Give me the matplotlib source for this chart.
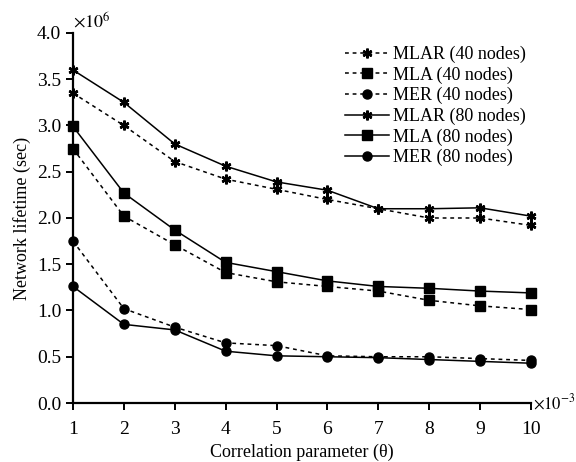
import matplotlib
matplotlib.use("Agg")
import matplotlib.pyplot as plt

theta = [1, 2, 3, 4, 5, 6, 7, 8, 9, 10]
mlar_40 = [3.35, 3.00, 2.61, 2.42, 2.31, 2.20, 2.10, 2.00, 2.00, 1.92]
mla_40 = [2.75, 2.02, 1.71, 1.41, 1.31, 1.26, 1.21, 1.11, 1.05, 1.01]
mer_40 = [1.75, 1.02, 0.82, 0.65, 0.62, 0.51, 0.50, 0.50, 0.48, 0.46]
mlar_80 = [3.60, 3.25, 2.80, 2.56, 2.39, 2.30, 2.10, 2.10, 2.11, 2.02]
mla_80 = [2.99, 2.27, 1.87, 1.52, 1.42, 1.32, 1.26, 1.24, 1.21, 1.19]
mer_80 = [1.26, 0.85, 0.79, 0.56, 0.51, 0.50, 0.49, 0.47, 0.45, 0.43]
labels = ["MLAR (40 nodes)", "MLA (40 nodes)", "MER (40 nodes)",
          "MLAR (80 nodes)", "MLA (80 nodes)", "MER (80 nodes)"]
yticks = [0.0, 0.5, 1.0, 1.5, 2.0, 2.5, 3.0, 3.5, 4.0]

plt.rcParams['font.family'] = ['Liberation Serif', 'DejaVu Serif']
plt.rcParams['mathtext.fontset'] = 'stix'

fig = plt.figure(figsize=(5.76, 4.62), dpi=100)
ax = fig.add_axes([0.1267, 0.1277, 0.7952, 0.8009])

dash = (0, (2.5, 2.5))
series = [mlar_40, mla_40, mer_40, mlar_80, mla_80, mer_80]
asterisk = (6, 2, 0)
markers = [asterisk, 's', 'o', asterisk, 's', 'o']
msizes = [7, 7, 6.5, 7, 7, 6.5]
mews = [1.8, 1.0, 1.0, 1.8, 1.0, 1.0]
styles = [dash, dash, dash, '-', '-', '-']
for ys, m, ms, mw, ls, lab in zip(series, markers, msizes, mews, styles, labels):
    ax.plot(theta, ys, linestyle=ls, color='black', marker=m, markersize=ms,
            markeredgewidth=mw, linewidth=1.1, markerfacecolor='black',
            markeredgecolor='black', label=lab, clip_on=False)

ax.set_xlim(1, 10)
ax.set_ylim(0, 4)
ax.set_xticks(theta)
ax.set_yticks(yticks)
ax.set_yticklabels([f"{v:.1f}" for v in yticks])
for s in ['top', 'right']:
    ax.spines[s].set_visible(False)
for s in ['left', 'bottom']:
    ax.spines[s].set_linewidth(1.6)
ax.tick_params(axis='both', direction='out', length=5, width=1.4, labelsize=14)
ax.tick_params(axis='x', pad=8)

ax.set_xlabel("Correlation parameter (θ)", fontsize=13)
ax.set_ylabel("Network lifetime (sec)", fontsize=13, labelpad=4)

ax.text(0.0, 1.005, r"$\times10^{6}$", transform=ax.transAxes, fontsize=13,
        ha='left', va='bottom')
ax.text(1.004, 0.0, r"$\times10^{-3}$", transform=ax.transAxes, fontsize=12,
        ha='left', va='center')

leg = ax.legend(loc='upper left', bbox_to_anchor=(345 / 576, 1 - 46 / 462),
                bbox_transform=fig.transFigure, frameon=False,
                fontsize=13, handlelength=2.45, handletextpad=0.2,
                labelspacing=0.18, borderaxespad=0, borderpad=0)

fig.savefig("out.png", dpi=100)
